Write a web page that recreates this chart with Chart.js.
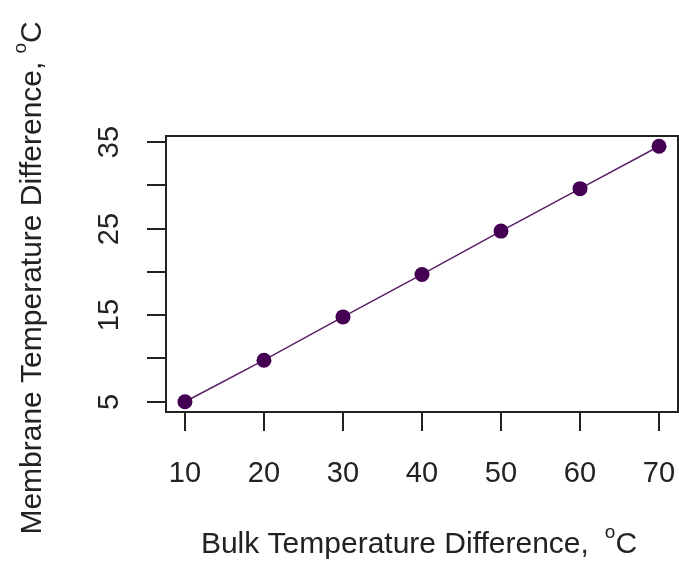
<!DOCTYPE html>
<html>
<head>
<meta charset="utf-8">
<script src="https://cdn.jsdelivr.net/npm/chart.js@4.4.1/dist/chart.umd.min.js"></script>
<style>
  html, body { margin: 0; padding: 0; background: #fff; overflow: hidden; }
  #chart { display: block; }
</style>
</head>
<body>
<canvas id="chart" width="679" height="563"></canvas>
<script>
// data
const bulkDiff = [10, 20, 30, 40, 50, 60, 70];
const membraneDiff = [5.0, 9.8, 14.8, 19.7, 24.7, 29.6, 34.5];
const xTicks = [10, 20, 30, 40, 50, 60, 70];
const yTicks = [5, 10, 15, 20, 25, 30, 35];
const yTickLabels = ['5', '', '15', '', '25', '', '35'];
const xTitle = 'Bulk Temperature Difference,';
const yTitle = 'Membrane Temperature Difference,';

const ink = '#222222';
const font = '30px "Liberation Sans", Arial, sans-serif';
const tickFont = '29px "Liberation Sans", Arial, sans-serif';
const supFont = '19px "Liberation Sans", Arial, sans-serif';

// draws "title  °C" centred at (cx, cy) in the current transform
function drawDegreeTitle(ctx, text, gap, cx, cy) {
    ctx.font = font;
    const w1 = ctx.measureText(text).width + gap;
    const wC = ctx.measureText('C').width;
    ctx.font = supFont;
    const wo = ctx.measureText('o').width;
    const x0 = cx - (w1 + wo + wC) / 2;
    ctx.textAlign = 'left';
    ctx.textBaseline = 'middle';
    ctx.font = font;
    ctx.fillText(text, x0, cy);
    ctx.font = supFont;
    ctx.fillText('o', x0 + w1, cy - 12);
    ctx.font = font;
    ctx.fillText('C', x0 + w1 + wo, cy);
}

// R style frame, ticks and labels drawn with the chart's own scales
const baseAxes = {
    id: 'baseAxes',
    afterDraw(chart) {
        const ctx = chart.ctx;
        const a = chart.chartArea;
        const xs = chart.scales.x;
        const ys = chart.scales.y;
        const tick = 19;
        ctx.save();
        ctx.strokeStyle = ink;
        ctx.lineWidth = 2;
        ctx.strokeRect(a.left, a.top, a.right - a.left, a.bottom - a.top);

        ctx.fillStyle = ink;
        ctx.font = tickFont;
        // x ticks
        ctx.textAlign = 'center';
        ctx.textBaseline = 'middle';
        xTicks.forEach(v => {
            const px = Math.round(xs.getPixelForValue(v));
            ctx.beginPath();
            ctx.moveTo(px, a.bottom);
            ctx.lineTo(px, a.bottom + tick);
            ctx.stroke();
            ctx.fillText(String(v), px, a.bottom + 62);
        });
        // y ticks, labels rotated like R
        yTicks.forEach((v, i) => {
            const py = Math.round(ys.getPixelForValue(v));
            ctx.beginPath();
            ctx.moveTo(a.left, py);
            ctx.lineTo(a.left - tick, py);
            ctx.stroke();
            if (yTickLabels[i]) {
                ctx.save();
                ctx.translate(a.left - 56, py);
                ctx.rotate(-Math.PI / 2);
                ctx.textAlign = 'center';
                ctx.fillText(yTickLabels[i], 0, 0);
                ctx.restore();
            }
        });

        // axis titles
        drawDegreeTitle(ctx, xTitle, 16, (a.left + a.right) / 2 - 3, a.bottom + 133);

        ctx.save();
        ctx.translate(33, 278);
        ctx.rotate(-Math.PI / 2);
        drawDegreeTitle(ctx, yTitle, 8, 0, 0);
        ctx.restore();

        ctx.restore();
    }
};

// R pads the data range by 4 % on each side
const xPad = (Math.max(...bulkDiff) - Math.min(...bulkDiff)) * 0.04;
const yPad = (Math.max(...membraneDiff) - Math.min(...membraneDiff)) * 0.04;

new Chart(document.getElementById('chart'), {
    type: 'line',
    data: {
        datasets: [{
            data: bulkDiff.map((x, i) => ({ x: x, y: membraneDiff[i] })),
            borderColor: '#5a1f66',
            borderWidth: 1.5,
            backgroundColor: '#440154',
            pointBackgroundColor: '#440154',
            pointBorderColor: '#440154',
            pointRadius: 7.5,
            pointBorderWidth: 0,
            tension: 0,
            fill: false
        }]
    },
    options: {
        responsive: false,
        animation: false,
        layout: {
            autoPadding: false,
            padding: { left: 166, right: 1, top: 136, bottom: 151 }
        },
        plugins: {
            legend: { display: false },
            tooltip: { enabled: false }
        },
        scales: {
            x: {
                type: 'linear',
                display: false,
                min: Math.min(...bulkDiff) - xPad,
                max: Math.max(...bulkDiff) + xPad
            },
            y: {
                type: 'linear',
                display: false,
                min: Math.min(...membraneDiff) - yPad,
                max: Math.max(...membraneDiff) + yPad
            }
        }
    },
    plugins: [baseAxes]
});
</script>
</body>
</html>
